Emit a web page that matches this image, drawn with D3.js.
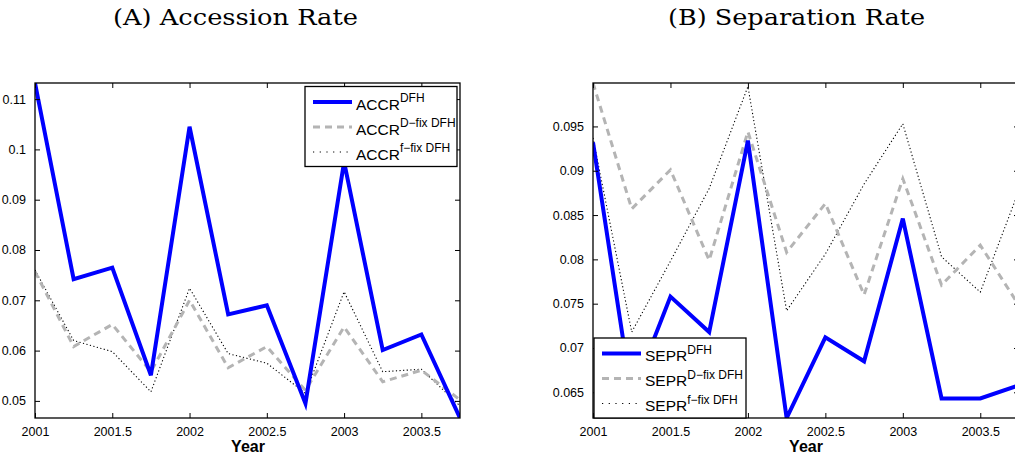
<!DOCTYPE html>
<html>
<head>
<meta charset="utf-8">
<script src="https://cdn.jsdelivr.net/npm/d3@7"></script>
<style>
    body { margin: 0; background: #fff; }
    svg { display: block; }
</style>
</head>
<body>
<div class="chart-container"></div>
<script>
// quarters shared by both panels
const quarters = [2001, 2001.25, 2001.5, 2001.75, 2002, 2002.25, 2002.5, 2002.75, 2003, 2003.25, 2003.5, 2003.75];

// (A) accession rate
const accrDFH = [0.1132, 0.0742, 0.0765, 0.0551, 0.1045, 0.0672, 0.0690, 0.0495, 0.0975, 0.0601, 0.0632, 0.0466];
const accrDfix = [0.0757, 0.0608, 0.0652, 0.0558, 0.0700, 0.0566, 0.0608, 0.0521, 0.0647, 0.0538, 0.0561, 0.0502];
const accrFfix = [0.0760, 0.0620, 0.0598, 0.0518, 0.0724, 0.0594, 0.0575, 0.0515, 0.0717, 0.0558, 0.0563, 0.0490];

// (B) separation rate
const seprDFH = [0.0932, 0.0646, 0.0758, 0.0718, 0.0934, 0.0621, 0.0712, 0.0685, 0.0846, 0.0643, 0.0643, 0.0658];
const seprDfix = [0.0999, 0.0857, 0.0901, 0.0799, 0.0944, 0.0808, 0.0863, 0.0760, 0.0891, 0.0771, 0.0816, 0.0748];
const seprFfix = [0.0937, 0.0718, 0.0798, 0.0880, 0.0995, 0.0742, 0.0806, 0.0885, 0.0953, 0.0803, 0.0763, 0.0878];

const xTicks = [2001, 2001.5, 2002, 2002.5, 2003, 2003.5];
const accrTicks = [0.05, 0.06, 0.07, 0.08, 0.09, 0.1, 0.11];
const seprTicks = [0.065, 0.07, 0.075, 0.08, 0.085, 0.09, 0.095];

const width = 1015;
const height = 458;

const styles = [
    { stroke: '#0000ff', width: 4, dash: null },
    { stroke: '#b4b4b4', width: 3, dash: '7,5' },
    { stroke: '#000', width: 1.1, dash: '1.2,2.4' }
];

const svg = d3.select('.chart-container').append('svg')
    .attr('width', width)
    .attr('height', height)
    .attr('viewBox', [0, 0, width, height])
    .style('font-family', '"Liberation Sans", Arial, sans-serif');

function panel(opts) {
    const { left, right, top, bottom } = opts;
    const all = opts.series.flat();

    const x = d3.scaleLinear().domain(d3.extent(quarters)).range([left, right]);
    const y = d3.scaleLinear().domain(d3.extent(all)).range([bottom, top]);

    const g = svg.append('g');

    // title
    g.append('text')
        .attr('x', opts.titleX)
        .attr('y', 25)
        .attr('text-anchor', 'middle')
        .attr('textLength', opts.titleW)
        .attr('lengthAdjust', 'spacingAndGlyphs')
        .style('font-family', '"DejaVu Serif", serif')
        .style('font-size', '21.5px')
        .style('font-weight', 200)
        .text(opts.title);

    g.append('clipPath').attr('id', opts.id)
        .append('rect')
        .attr('x', left).attr('y', top)
        .attr('width', right - left).attr('height', bottom - top);

    const line = d3.line()
        .x((d, i) => x(quarters[i]))
        .y(d => y(d));

    const lines = g.append('g').attr('clip-path', `url(#${opts.id})`);
    // dotted first, then dashed, then solid on top
    [2, 1, 0].forEach(k => {
        lines.append('path')
            .attr('d', line(opts.series[k]))
            .attr('fill', 'none')
            .attr('stroke', styles[k].stroke)
            .attr('stroke-width', styles[k].width)
            .attr('stroke-dasharray', styles[k].dash)
            .attr('stroke-linejoin', 'miter');
    });

    // axes with inward ticks on all four sides
    const fmt = d => String(+d.toFixed(3));
    const ax = [
        [d3.axisBottom(x).tickValues(xTicks).tickFormat(fmt), `translate(0,${bottom})`, true],
        [d3.axisTop(x).tickValues(xTicks).tickFormat(''), `translate(0,${top})`, false],
        [d3.axisLeft(y).tickValues(opts.yTicks).tickFormat(fmt), `translate(${left},0)`, true],
        [d3.axisRight(y).tickValues(opts.yTicks).tickFormat(''), `translate(${right},0)`, false]
    ];
    ax.forEach(([a, tr, labels]) => {
        const axg = g.append('g').attr('transform', tr)
            .call(a.tickSizeInner(-5).tickSizeOuter(0).tickPadding(labels ? 9 : 0));
        axg.select('.domain').remove();
        axg.selectAll('line').attr('stroke', '#000').attr('stroke-width', 1);
        axg.selectAll('text')
            .attr('fill', '#000')
            .style('font-size', '12.5px')
            .style('font-family', '"Liberation Sans", Arial, sans-serif');
        if (!labels) axg.selectAll('text').remove();
    });

    g.append('rect')
        .attr('x', left).attr('y', top)
        .attr('width', right - left).attr('height', bottom - top)
        .attr('fill', 'none')
        .attr('stroke', '#000')
        .attr('stroke-width', 1.3);

    g.append('text')
        .attr('x', opts.labelX)
        .attr('y', 452)
        .attr('text-anchor', 'middle')
        .style('font-size', '16px')
        .style('font-weight', 'bold')
        .text('Year');

    // legend
    const lg = g.append('g').attr('transform', `translate(${opts.legendX},${opts.legendY})`);
    lg.append('rect')
        .attr('width', 152).attr('height', 80)
        .attr('fill', '#fff')
        .attr('stroke', '#000')
        .attr('stroke-width', 1.3);
    const items = lg.selectAll('g.item')
        .data(opts.labels)
        .join('g')
        .attr('class', 'item')
        .attr('transform', (d, i) => `translate(0,${15.5 + i * 25})`);
    items.append('line')
        .attr('x1', 8).attr('x2', 47)
        .attr('stroke', (d, i) => styles[i].stroke)
        .attr('stroke-width', (d, i) => styles[i].width)
        .attr('stroke-dasharray', (d, i) => i === 2 ? '1.2,5.5' : styles[i].dash);
    const txt = items.append('text')
        .attr('x', 51)
        .attr('y', 7.5)
        .style('font-size', '15.5px');
    txt.append('tspan').text(d => d[0]);
    txt.append('tspan')
        .attr('dy', -7.5)
        .style('font-size', '12px')
        .text(d => d[1]);
}

panel({
    id: 'clipA', title: '(A) Accession Rate', titleX: 235.5, titleW: 245,
    left: 35, right: 460, top: 83, bottom: 418,
    series: [accrDFH, accrDfix, accrFfix],
    yTicks: accrTicks, labelX: 248,
    legendX: 305, legendY: 86.5,
    labels: [['ACCR', 'DFH'], ['ACCR', 'D\u2212fix DFH'], ['ACCR', 'f\u2212fix DFH']]
});

panel({
    id: 'clipB', title: '(B) Separation Rate', titleX: 796.5, titleW: 257,
    left: 593, right: 1019, top: 83, bottom: 418,
    series: [seprDFH, seprDfix, seprFfix],
    yTicks: seprTicks, labelX: 806,
    legendX: 594, legendY: 338,
    labels: [['SEPR', 'DFH'], ['SEPR', 'D\u2212fix DFH'], ['SEPR', 'f\u2212fix DFH']]
});
</script>
</body>
</html>
